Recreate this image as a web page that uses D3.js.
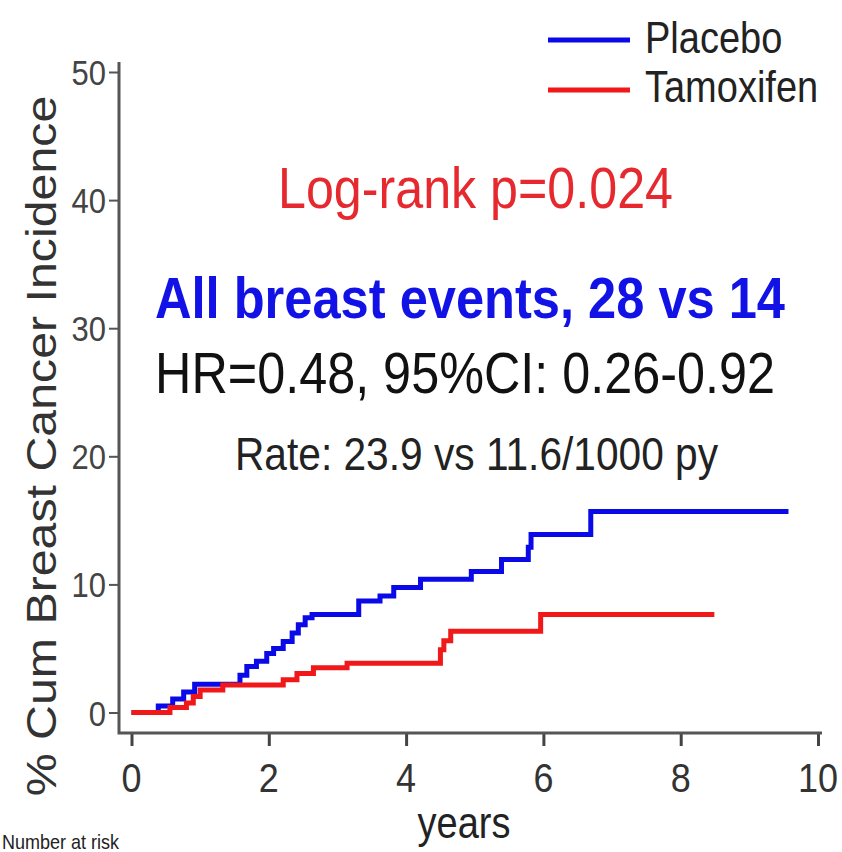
<!DOCTYPE html>
<html lang="en">
	<head>
		<meta charset="utf-8">
		<title>Cumulative breast cancer incidence</title>
		<script src="https://d3js.org/d3.v7.min.js"></script>
		<style type="text/css">
			body { margin: 0; background: #fff; }
			text { font-family: "Liberation Sans", Arial, sans-serif; }
		</style>
	</head>
	<body>
		<script type="text/javascript">
			//Width and height
			var width = 842;
			var height = 852;
			var stretch = 1.15;   // the picture is a bit taller than wide

			// step points: time (years), cumulative %
			var placeboTime = [0, 0.39, 0.60, 0.76, 0.92, 1.58, 1.68, 1.82, 1.97, 2.07, 2.21, 2.34, 2.43, 2.53, 2.63,
							   3.31, 3.62, 3.82, 4.21, 4.95, 5.39, 5.78, 5.82, 6.69, 9.57];
			var placeboPct  = [0, 0.5, 1.05, 1.6, 2.2, 2.9, 3.6, 4.0, 4.6, 5.0, 5.55, 6.2, 6.85, 7.4, 7.65,
							   8.7, 9.1, 9.75, 10.4, 11.0, 11.95, 12.9, 13.9, 15.7, 15.7];
			var tamoxTime = [0, 0.56, 0.80, 0.90, 1.00, 1.33, 2.21, 2.41, 2.65, 3.14, 4.50, 4.55, 4.65, 5.96, 8.49];
			var tamoxPct  = [0, 0.4, 0.75, 1.25, 1.75, 2.15, 2.55, 3.05, 3.5, 3.85, 4.9, 5.6, 6.35, 7.65, 7.65];

			var xTicks = [0, 2, 4, 6, 8, 10];
			var yTicks = [0, 10, 20, 30, 40, 50];
			var seriesNames = ["Placebo", "Tamoxifen"];
			var seriesColors = ["#0a0ae8", "#f01818"];

			var x = d3.scaleLinear().domain([0, 10]).range([131.5, 818]);
			var y = d3.scaleLinear().domain([0, 50]).range([712.5, 72]);

			var svg = d3.select("body")
						.append("svg")
							.attr("width", width)
							.attr("height", height);

			// text helper, stretched vertically like the original
			function label(px, py, str, size, opts) {
				opts = opts || {};
				var t = svg.append("text")
					.attr("transform", "translate(" + px + "," + py + ") scale(1," + stretch + ")")
					.attr("font-size", size + "px")
					.attr("text-anchor", opts.anchor || "start")
					.attr("fill", opts.fill || "#222")
					.attr("font-weight", opts.weight || "normal")
					.text(str);
				if (opts.len) t.attr("textLength", opts.len).attr("lengthAdjust", "spacingAndGlyphs");
				return t;
			}

			// axes (L shaped frame)
			var xAxis = d3.axisBottom(x).tickValues(xTicks).tickSize(13).tickFormat(d3.format("d"));
			var yAxis = d3.axisLeft(y).tickValues(yTicks).tickSize(10).tickFormat(d3.format("d"));

			var gx = svg.append("g").attr("transform", "translate(0,733)").call(xAxis);
			gx.select(".domain").remove();
			gx.selectAll(".tick line").attr("stroke", "#444").attr("stroke-width", 3);
			gx.selectAll(".tick text").remove();

			var gy = svg.append("g").attr("transform", "translate(119,0)").call(yAxis);
			gy.select(".domain").remove();
			gy.selectAll(".tick line").attr("stroke", "#555").attr("stroke-width", 2);
			gy.selectAll(".tick text").remove();

			svg.append("path")
				.attr("d", "M119,62V733H822")
				.attr("fill", "none")
				.attr("stroke", "#555")
				.attr("stroke-width", 3);

			xTicks.forEach(function(d) {
				label(x(d), 792, d, 36, { anchor: "middle", fill: "#333" });
			});
			yTicks.forEach(function(d) {
				label(106, y(d) + 13, d, 31, { anchor: "end", fill: "#444" });
			});

			// curves
			var line = d3.line()
				.x(function(d) { return x(d[0]); })
				.y(function(d) { return y(d[1]); })
				.curve(d3.curveStepAfter);

			var curves = [d3.zip(placeboTime, placeboPct), d3.zip(tamoxTime, tamoxPct)];

			svg.selectAll("path.curve")
			   .data(curves)
			   .enter()
			   .append("path")
			   .attr("class", "curve")
			   .attr("d", line)
			   .attr("fill", "none")
			   .attr("stroke", function(d, i) { return seriesColors[i]; })
			   .attr("stroke-width", 5)
			   .attr("stroke-linejoin", "miter");

			// legend
			seriesNames.forEach(function(name, i) {
				svg.append("line")
					.attr("x1", 548).attr("x2", 630)
					.attr("y1", 40 + i * 50).attr("y2", 40 + i * 50)
					.attr("stroke", seriesColors[i])
					.attr("stroke-width", 5);
				label(645, 53 + i * 49, name, 38, { fill: "#222" });
			});

			// annotations
			label(475.5, 208, "Log-rank p=0.024", 50, { anchor: "middle", fill: "#e5292e", len: 395 });
			label(470, 318, "All breast events, 28 vs 14", 50, { anchor: "middle", fill: "#1212e6", weight: "bold", len: 630 });
			label(465, 393, "HR=0.48, 95%CI: 0.26-0.92", 50, { anchor: "middle", fill: "#111", len: 620 });
			label(476.5, 470, "Rate: 23.9 vs 11.6/1000 py", 40, { anchor: "middle", fill: "#222", len: 483 });

			// axis titles
			svg.append("text")
				.attr("transform", "translate(56,446) rotate(-90) scale(" + stretch + ",1)")
				.attr("font-size", "42px")
				.attr("text-anchor", "middle")
				.attr("fill", "#333")
				.text("% Cum Breast Cancer Incidence");

			label(464, 838, "years", 38, { anchor: "middle", fill: "#222" });
			label(2, 849, "Number at risk", 18, { fill: "#222" });
		</script>
	</body>
</html>
